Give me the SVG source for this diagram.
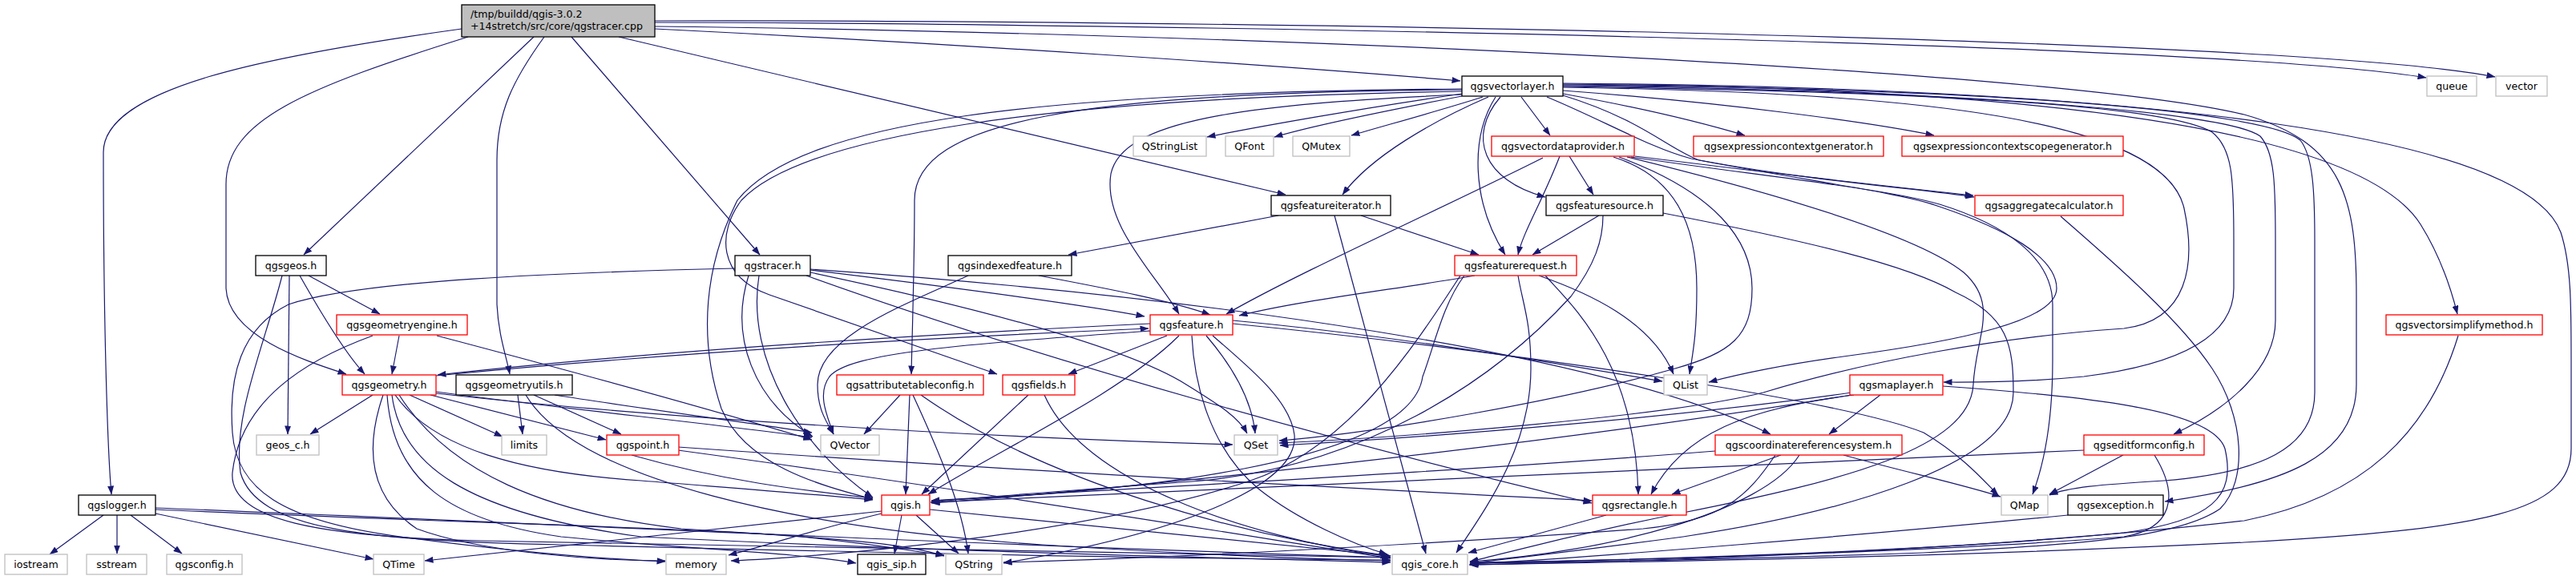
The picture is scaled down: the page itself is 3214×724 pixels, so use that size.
<svg xmlns="http://www.w3.org/2000/svg" width="3214" height="724" viewBox="0 0 3214 724">
<defs>
<style>
.e path{fill:none;stroke:#191970;stroke-width:1.2;marker-end:url(#ah)}
.nd rect{fill:#fff;stroke-width:1.3}
.k rect{stroke:#000}
.r rect{stroke:#f00}
.s rect{stroke:#bfbfbf}
.root rect{fill:#bfbfbf;stroke:#000}
text{font-family:"DejaVu Sans","Liberation Sans",sans-serif;font-size:12.6px;text-anchor:middle;fill:#000}
.root text{text-anchor:start}
</style>
<marker id="ah" viewBox="0 0 11 8" refX="10.5" refY="4" markerWidth="11" markerHeight="8" markerUnits="userSpaceOnUse" orient="auto"><path d="M0,0 L11,4 L0,8 z" fill="#191970"/></marker>
</defs>
<rect x="0" y="0" width="3214" height="724" fill="#fff"/>
<g id="edges" class="e">
<path d="M817,36 C1200,55 1600,82 1822,101"/>
<path d="M817,28 C1400,29 2750,52 3027,97"/>
<path d="M817,26 C1400,24 2850,44 3113,96"/>
<path d="M817,33 C1500,40 2560,85 2800,143 C2925,178 2940,250 2940,370 L2940,480 C2940,570 2850,605 2701,626"/>
<path d="M666,46 L379,318"/>
<path d="M576,36 C330,70 129,110 129,190 C129,400 134,560 139,617"/>
<path d="M584,46 C380,110 282,150 282,230 L282,360 C285,420 380,450 432,467"/>
<path d="M679,46 C640,100 620,140 620,200 L620,380 C622,420 632,445 636,467"/>
<path d="M713,46 L948,318"/>
<path d="M772,46 L1604,243"/>
<path d="M1824,117 C1700,135 1570,158 1506,171"/>
<path d="M1824,120 C1730,138 1640,156 1590,171"/>
<path d="M1850,121 C1790,140 1730,156 1686,169"/>
<path d="M1857,121 C1790,150 1710,195 1675,243"/>
<path d="M1898,121 L1934,169"/>
<path d="M1950,117 C2050,135 2130,155 2177,169"/>
<path d="M1950,113 C2150,128 2330,152 2413,169"/>
<path d="M1872,121 C1830,170 1850,225 1928,246"/>
<path d="M1866,121 C1835,170 1835,250 1878,318"/>
<path d="M1930,121 C2000,150 2060,185 2110,198 C2250,225 2400,236 2463,246"/>
<path d="M1824,118 C1550,130 1400,150 1386,217 C1376,280 1440,340 1471,392"/>
<path d="M1824,112 C1350,116 1141,150 1141,250 C1141,330 1138,420 1137,467"/>
<path d="M1824,114 C1300,122 1000,170 925,250 C895,290 895,345 960,368 L1244,467"/>
<path d="M1824,111 C1300,115 1000,150 920,250 C880,330 870,420 900,510 C930,580 1020,605 1089,623"/>
<path d="M1950,119 C2050,150 2080,185 2120,200 C2250,225 2370,240 2420,258 C2500,285 2566,320 2566,360 C2566,400 2450,425 2300,445 C2220,456 2170,467 2132,477"/>
<path d="M1950,109 C2400,115 2700,150 2725,260 C2740,330 2730,400 2650,410 C2500,420 2330,450 2200,490 C2080,520 1750,546 1596,553"/>
<path d="M1950,108 C2400,115 2700,130 2760,165 C2785,185 2787,220 2787,300 L2787,360 C2787,420 2720,455 2600,470 C2520,478 2460,477 2425,477"/>
<path d="M1950,107 C2450,113 2780,140 2820,170 C2838,190 2839,230 2839,300 L2839,400 C2839,460 2780,510 2712,542"/>
<path d="M1950,106 C2500,110 2830,140 2870,175 C2886,195 2888,240 2888,300 L2888,490 C2888,560 2820,590 2700,600 C2620,605 2580,608 2557,618"/>
<path d="M1950,105 C2600,110 2950,170 3020,280 C3045,320 3058,360 3066,392"/>
<path d="M1950,104 C2700,110 3150,170 3195,290 C3208,330 3208,380 3208,450 L3208,560 C3208,640 3100,660 2800,677 C2400,697 2000,702 1833,705"/>
<path d="M1958,195 L1988,243"/>
<path d="M1946,195 C1925,250 1900,290 1894,318"/>
<path d="M1925,197 C1800,260 1620,340 1530,392"/>
<path d="M2040,195 C2200,215 2350,232 2462,244"/>
<path d="M2013,196 C2090,220 2117,280 2117,360 C2117,420 2112,440 2108,467"/>
<path d="M2020,196 C2140,240 2186,300 2186,360 C2186,420 2160,440 2090,460 C1950,500 1720,540 1596,550"/>
<path d="M2030,196 C2250,250 2400,300 2450,340 C2495,380 2465,420 2462,480 C2458,560 2300,600 2100,640 C1950,670 1880,690 1834,701"/>
<path d="M2035,196 C2200,220 2350,235 2420,255 C2500,280 2561,320 2561,380 L2561,450 C2561,530 2550,580 2536,617"/>
<path d="M1995,269 L1912,318"/>
<path d="M2075,266 C2250,300 2380,330 2440,365 C2505,395 2512,430 2512,490 C2512,580 2300,640 2100,670 C1950,690 1880,698 1834,703"/>
<path d="M2000,269 C2000,300 1990,330 1960,370 C1860,480 1700,580 1500,600 C1300,615 1200,622 1161,627"/>
<path d="M1595,269 L1333,318"/>
<path d="M1698,269 L1845,318"/>
<path d="M1665,269 L1779,691"/>
<path d="M1840,344 C1750,360 1620,375 1546,394"/>
<path d="M1894,344 C1900,380 1910,400 1910,460 C1910,560 1850,640 1817,690"/>
<path d="M1920,344 C1980,365 2060,400 2088,467"/>
<path d="M1928,344 C1960,380 2040,450 2044,617"/>
<path d="M1827,344 C1800,380 1790,430 1775,470 C1760,580 1400,615 1162,625"/>
<path d="M1822,344 C1760,440 1680,560 1560,600 C1350,670 1000,697 912,700"/>
<path d="M1435,404 C1100,420 800,440 546,468"/>
<path d="M544,469 C800,444 1100,424 1433,410"/>
<path d="M1435,413 C1200,430 1060,440 1035,470 C1020,490 1030,515 1040,542"/>
<path d="M1456,419 L1333,467"/>
<path d="M1471,419 C1400,490 1250,560 1158,617"/>
<path d="M1487,419 C1490,480 1510,560 1570,610 C1620,650 1690,680 1731,692"/>
<path d="M1505,419 C1540,460 1562,500 1566,541"/>
<path d="M1513,419 C1560,460 1610,500 1615,543 C1620,600 1500,660 1252,703"/>
<path d="M1538,400 C1750,420 1950,455 2074,476"/>
<path d="M1538,404 C1900,440 2300,500 2400,540 C2450,570 2475,600 2493,618"/>
<path d="M1011,337 C1200,360 1350,380 1428,395"/>
<path d="M934,344 C910,420 940,500 1014,545"/>
<path d="M947,344 C930,450 1000,560 1089,621"/>
<path d="M1011,340 C1200,380 1400,430 1480,480 C1520,505 1545,520 1556,541"/>
<path d="M1011,336 C1500,370 2000,440 2209,542"/>
<path d="M1006,344 C1300,450 1700,560 1986,628"/>
<path d="M917,335 C700,340 450,350 360,380 C300,410 285,470 290,540 C295,610 350,650 500,670 C650,690 760,698 830,701"/>
<path d="M1208,344 C1130,380 1020,420 1020,480 C1020,510 1030,525 1040,542"/>
<path d="M1296,344 C1380,360 1460,375 1510,393"/>
<path d="M465,493 L387,542"/>
<path d="M511,493 L627,545"/>
<path d="M537,493 L756,549"/>
<path d="M544,489 C700,510 900,530 1013,546"/>
<path d="M544,491 C800,520 1200,545 1538,555"/>
<path d="M493,493 C540,560 650,590 800,600 C950,612 1030,618 1089,624"/>
<path d="M478,493 C455,560 460,620 520,660 C600,690 750,700 830,700"/>
<path d="M483,493 C490,600 560,650 700,670 C850,685 1000,690 1068,703"/>
<path d="M498,493 C560,590 680,640 850,660 C1000,670 1120,675 1178,694"/>
<path d="M489,493 C500,580 580,640 800,670 C1200,690 1500,695 1735,702"/>
<path d="M646,493 L652,542"/>
<path d="M666,493 L775,542"/>
<path d="M692,493 C800,510 950,530 1013,540"/>
<path d="M656,493 C720,600 1000,660 1300,680 C1500,693 1650,698 1735,700"/>
<path d="M385,344 L474,392"/>
<path d="M374,344 C400,390 430,440 455,467"/>
<path d="M361,344 L359,542"/>
<path d="M352,344 C330,430 290,520 300,590 C320,660 450,675 700,680 C1100,690 1500,698 1735,699"/>
<path d="M498,419 L489,467"/>
<path d="M545,419 C700,460 900,515 1013,549"/>
<path d="M465,419 C380,450 300,500 290,590 C285,650 400,670 600,675 C1000,685 1400,692 1735,696"/>
<path d="M788,568 C900,600 1000,612 1089,622"/>
<path d="M846,558 C1300,590 1700,610 1986,625"/>
<path d="M846,562 C1200,610 1500,660 1735,697"/>
<path d="M129,643 L62,692"/>
<path d="M146,643 L146,691"/>
<path d="M163,643 L227,691"/>
<path d="M194,641 L466,698"/>
<path d="M194,636 C500,650 900,660 1000,670 C1100,680 1150,690 1178,693"/>
<path d="M194,634 C600,650 1200,680 1735,696"/>
<path d="M1100,638 C900,660 700,680 530,700"/>
<path d="M1100,641 C1020,660 960,680 909,693"/>
<path d="M1125,643 L1116,691"/>
<path d="M1143,643 L1196,691"/>
<path d="M1160,636 C1400,660 1600,680 1735,694"/>
<path d="M1123,493 L1078,542"/>
<path d="M1135,493 L1130,617"/>
<path d="M1139,493 C1170,560 1200,630 1208,691"/>
<path d="M1149,493 C1300,600 1550,670 1735,694"/>
<path d="M1283,493 L1150,617"/>
<path d="M1303,493 C1350,600 1550,670 1733,695"/>
<path d="M2004,643 L1832,690"/>
<path d="M2222,568 L2086,617"/>
<path d="M2140,563 C1800,590 1400,610 1162,625"/>
<path d="M2300,568 C2380,590 2450,605 2496,620"/>
<path d="M2215,568 C2180,620 2150,650 2050,660 C1850,675 1500,695 1252,702"/>
<path d="M2245,568 C2200,640 2000,690 1834,701"/>
<path d="M2346,493 L2282,542"/>
<path d="M2313,493 C2180,510 2100,540 2060,617"/>
<path d="M2310,490 C2100,520 1800,545 1597,556"/>
<path d="M2310,493 C1900,560 1400,610 1162,628"/>
<path d="M2424,482 C2600,495 2760,510 2776,560 C2790,620 2760,650 2650,665 C2400,690 2000,700 1834,702"/>
<path d="M2600,562 C2000,590 1500,615 1162,627"/>
<path d="M2649,568 L2557,617"/>
<path d="M2688,568 C2720,620 2710,660 2650,670 C2400,690 2000,700 1834,703"/>
<path d="M2580,643 C2300,670 2000,695 1834,704"/>
<path d="M3067,419 C3030,540 2950,620 2800,650 C2500,685 2100,700 1834,705"/>
<path d="M2571,270 C2640,330 2720,400 2760,460 C2800,520 2805,600 2770,635 C2720,670 2600,680 2400,690 C2100,700 1950,702 1834,703"/>
</g>
<g id="n-root" class="nd root"><rect x="576" y="6" width="241" height="40"/><text x="587" y="22">/tmp/buildd/qgis-3.0.2</text><text x="587" y="37">+14stretch/src/core/qgstracer.cpp</text></g>
<g id="n-qgsvectorlayer" class="nd k"><rect x="1824" y="95" width="126" height="25"/><text x="1887" y="112">qgsvectorlayer.h</text></g>
<g id="n-queue" class="nd s"><rect x="3028" y="95" width="62" height="25"/><text x="3059" y="112">queue</text></g>
<g id="n-vector" class="nd s"><rect x="3114" y="95" width="64" height="25"/><text x="3146" y="112">vector</text></g>
<g id="n-QStringList" class="nd s"><rect x="1414" y="170" width="91" height="25"/><text x="1459.5" y="187">QStringList</text></g>
<g id="n-QFont" class="nd s"><rect x="1529" y="170" width="60" height="25"/><text x="1559" y="187">QFont</text></g>
<g id="n-QMutex" class="nd s"><rect x="1613" y="170" width="71" height="25"/><text x="1648.5" y="187">QMutex</text></g>
<g id="n-qgsvectordataprovider" class="nd r"><rect x="1861" y="170" width="178" height="25"/><text x="1950" y="187">qgsvectordataprovider.h</text></g>
<g id="n-qgsexpressioncontextgenerator" class="nd r"><rect x="2113" y="170" width="237" height="25"/><text x="2231.5" y="187">qgsexpressioncontextgenerator.h</text></g>
<g id="n-qgsexpressioncontextscopegenerator" class="nd r"><rect x="2373" y="170" width="276" height="25"/><text x="2511" y="187">qgsexpressioncontextscopegenerator.h</text></g>
<g id="n-qgsfeatureiterator" class="nd k"><rect x="1586" y="244" width="149" height="25"/><text x="1660.5" y="261">qgsfeatureiterator.h</text></g>
<g id="n-qgsfeaturesource" class="nd k"><rect x="1929" y="244" width="146" height="25"/><text x="2002" y="261">qgsfeaturesource.h</text></g>
<g id="n-qgsaggregatecalculator" class="nd r"><rect x="2464" y="244" width="185" height="25"/><text x="2556.5" y="261">qgsaggregatecalculator.h</text></g>
<g id="n-qgsgeos" class="nd k"><rect x="319" y="319" width="88" height="25"/><text x="363" y="336">qgsgeos.h</text></g>
<g id="n-qgstracer" class="nd k"><rect x="917" y="319" width="94" height="25"/><text x="964" y="336">qgstracer.h</text></g>
<g id="n-qgsindexedfeature" class="nd k"><rect x="1183" y="319" width="154" height="25"/><text x="1260" y="336">qgsindexedfeature.h</text></g>
<g id="n-qgsfeaturerequest" class="nd r"><rect x="1815" y="319" width="152" height="25"/><text x="1891" y="336">qgsfeaturerequest.h</text></g>
<g id="n-qgsgeometryengine" class="nd r"><rect x="420" y="393" width="163" height="25"/><text x="501.5" y="410">qgsgeometryengine.h</text></g>
<g id="n-qgsfeature" class="nd r"><rect x="1435" y="393" width="103" height="25"/><text x="1486.5" y="410">qgsfeature.h</text></g>
<g id="n-qgsvectorsimplifymethod" class="nd r"><rect x="2977" y="393" width="195" height="25"/><text x="3074.5" y="410">qgsvectorsimplifymethod.h</text></g>
<g id="n-qgsgeometry" class="nd r"><rect x="427" y="468" width="117" height="25"/><text x="485.5" y="485">qgsgeometry.h</text></g>
<g id="n-qgsgeometryutils" class="nd k"><rect x="569" y="468" width="145" height="25"/><text x="641.5" y="485">qgsgeometryutils.h</text></g>
<g id="n-qgsattributetableconfig" class="nd r"><rect x="1044" y="468" width="183" height="25"/><text x="1135.5" y="485">qgsattributetableconfig.h</text></g>
<g id="n-qgsfields" class="nd r"><rect x="1251" y="468" width="90" height="25"/><text x="1296" y="485">qgsfields.h</text></g>
<g id="n-QList" class="nd s"><rect x="2076" y="468" width="54" height="25"/><text x="2103" y="485">QList</text></g>
<g id="n-qgsmaplayer" class="nd r"><rect x="2308" y="468" width="116" height="25"/><text x="2366" y="485">qgsmaplayer.h</text></g>
<g id="n-geos_c" class="nd s"><rect x="320" y="543" width="78" height="25"/><text x="359" y="560">geos_c.h</text></g>
<g id="n-limits" class="nd s"><rect x="626" y="543" width="56" height="25"/><text x="654" y="560">limits</text></g>
<g id="n-qgspoint" class="nd r"><rect x="757" y="543" width="90" height="25"/><text x="802" y="560">qgspoint.h</text></g>
<g id="n-QVector" class="nd s"><rect x="1024" y="543" width="73" height="25"/><text x="1060.5" y="560">QVector</text></g>
<g id="n-QSet" class="nd s"><rect x="1540" y="543" width="54" height="25"/><text x="1567" y="560">QSet</text></g>
<g id="n-qgscoordinatereferencesystem" class="nd r"><rect x="2140" y="543" width="233" height="25"/><text x="2256.5" y="560">qgscoordinatereferencesystem.h</text></g>
<g id="n-qgseditformconfig" class="nd r"><rect x="2600" y="543" width="150" height="25"/><text x="2675" y="560">qgseditformconfig.h</text></g>
<g id="n-qgslogger" class="nd k"><rect x="98" y="618" width="96" height="25"/><text x="146" y="635">qgslogger.h</text></g>
<g id="n-qgis" class="nd r"><rect x="1100" y="618" width="60" height="25"/><text x="1130" y="635">qgis.h</text></g>
<g id="n-qgsrectangle" class="nd r"><rect x="1987" y="618" width="117" height="25"/><text x="2045.5" y="635">qgsrectangle.h</text></g>
<g id="n-QMap" class="nd s"><rect x="2497" y="618" width="58" height="25"/><text x="2526" y="635">QMap</text></g>
<g id="n-qgsexception" class="nd k"><rect x="2580" y="618" width="119" height="25"/><text x="2639.5" y="635">qgsexception.h</text></g>
<g id="n-iostream" class="nd s"><rect x="6" y="692" width="78" height="25"/><text x="45" y="709">iostream</text></g>
<g id="n-sstream" class="nd s"><rect x="108" y="692" width="75" height="25"/><text x="145.5" y="709">sstream</text></g>
<g id="n-qgsconfig" class="nd s"><rect x="208" y="692" width="94" height="25"/><text x="255" y="709">qgsconfig.h</text></g>
<g id="n-QTime" class="nd s"><rect x="466" y="692" width="63" height="25"/><text x="497.5" y="709">QTime</text></g>
<g id="n-memory" class="nd s"><rect x="831" y="692" width="75" height="25"/><text x="868.5" y="709">memory</text></g>
<g id="n-qgis_sip" class="nd k"><rect x="1070" y="692" width="85" height="25"/><text x="1112.5" y="709">qgis_sip.h</text></g>
<g id="n-QString" class="nd s"><rect x="1180" y="692" width="70" height="25"/><text x="1215" y="709">QString</text></g>
<g id="n-qgis_core" class="nd s"><rect x="1737" y="692" width="94" height="25"/><text x="1784" y="709">qgis_core.h</text></g>
</svg>
